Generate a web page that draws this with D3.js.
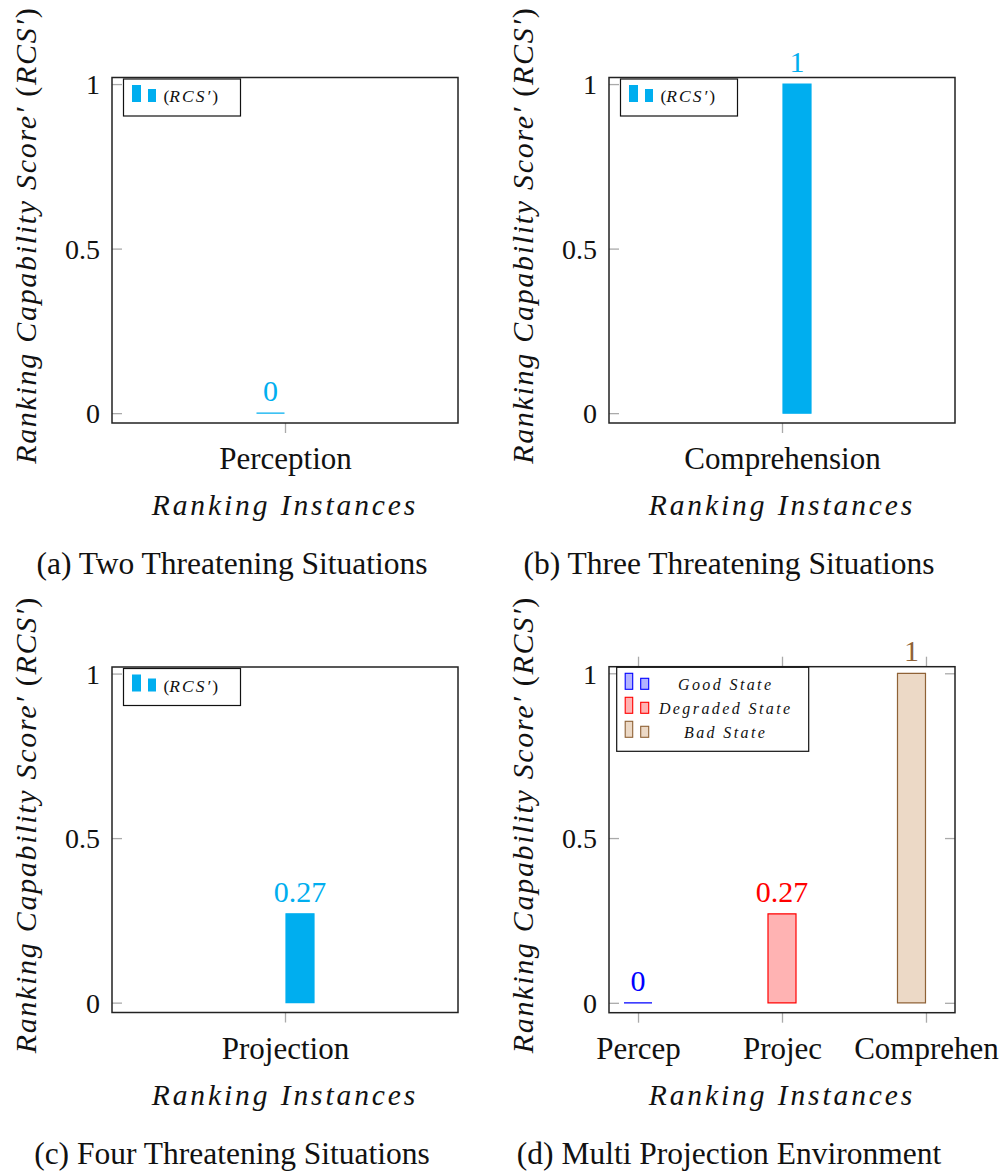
<!DOCTYPE html>
<html><head><meta charset="utf-8">
<script src="https://cdn.jsdelivr.net/npm/d3@7"></script>
<style>
body{margin:0;background:#fff;}
svg{display:block;}
text{font-family:"Liberation Serif","Times New Roman",serif;}
</style></head>
<body>
<script>
// ---------- data ----------
const yTicks = [0, 0.5, 1];
const yTickLabels = ["0", "0.5", "1"];

const catsA = ["Perception"];
const valsA = [0];
const catsB = ["Comprehension"];
const valsB = [1];
const catsC = ["Projection"];
const valsC = [0.27];

const catsD = ["Percep", "Projec", "Comprehen"];
const goodD = [0, null, null];
const degradedD = [null, 0.27, null];
const badD = [null, null, 1];

const seriesNamesD = ["Good State", "Degraded State", "Bad State"];
const captions = ["(a) Two Threatening Situations", "(b) Three Threatening Situations",
                  "(c) Four Threatening Situations", "(d) Multi Projection Environment"];
const xLabel = "Ranking Instances";

// ---------- drawing ----------
const W = 1003, H = 1171;
const svg = d3.select("body").append("svg").attr("width", W).attr("height", H);

const CYAN = "#00aeef";
const fmt = v => String(+v.toFixed(2));

function frame(p) {
  const g = svg.append("g");
  const x = d3.scalePoint().domain(p.cats).range([p.x0, p.x1]).padding(p.pad);
  const y = d3.scaleLinear().domain([-0.03, 1.02]).range([p.y1, p.y0]);
  const yl = g.append("g").attr("transform", `translate(${p.x0},0)`)
    .call(d3.axisLeft(y).tickValues(yTicks).tickFormat((d, i) => yTickLabels[i]).tickSizeInner(-10).tickSizeOuter(0).tickPadding(12));
  yl.select(".domain").remove();
  yl.selectAll("line").attr("stroke", "#aaa").attr("stroke-width", 1.3);
  yl.selectAll("text").attr("font-size", 28).attr("fill", "#111").attr("dy", "0.35em");
  if (p.mirror) {
    const yr = g.append("g").attr("transform", `translate(${p.x1},0)`)
      .call(d3.axisRight(y).tickValues(yTicks).tickFormat("").tickSizeInner(-10).tickSizeOuter(0));
    yr.select(".domain").remove();
    yr.selectAll("line").attr("stroke", "#aaa").attr("stroke-width", 1.3);
    const xt = g.append("g").attr("transform", `translate(0,${p.y0})`)
      .call(d3.axisTop(x).tickFormat("").tickSizeInner(10).tickSizeOuter(0));
    xt.select(".domain").remove();
    xt.selectAll("line").attr("stroke", "#aaa").attr("stroke-width", 1.3);
  }
  const xb = g.append("g").attr("transform", `translate(0,${p.y1})`)
    .call(d3.axisBottom(x).tickSizeInner(10).tickSizeOuter(0).tickPadding(14));
  xb.select(".domain").remove();
  xb.selectAll("line").attr("stroke", "#aaa").attr("stroke-width", 1.3);
  xb.selectAll("text").attr("font-size", 31).attr("fill", "#111").attr("dy", "0.71em");
  g.append("rect").attr("x", p.x0).attr("y", p.y0).attr("width", p.x1 - p.x0).attr("height", p.y1 - p.y0)
    .attr("fill", "none").attr("stroke", "#222").attr("stroke-width", 1.5);
  const cx = (p.x0 + p.x1) / 2;
  g.append("text").attr("x", cx).attr("y", p.y1 + 92).attr("text-anchor", "middle")
    .attr("font-size", 29.5).attr("font-style", "italic").attr("letter-spacing", 2.9).attr("fill", "#111").text(xLabel);
  const yl2 = g.append("text").attr("transform", `translate(${p.x0 - 76},${(p.y0 + p.y1) / 2 - 15}) rotate(-90)`)
    .attr("text-anchor", "middle").attr("font-size", 30).attr("font-style", "italic").attr("letter-spacing", 1.7).attr("fill", "#111");
  yl2.append("tspan").text("Ranking Capability Score′ ");
  yl2.append("tspan").attr("font-style", "normal").text("(");
  yl2.append("tspan").text("RCS′");
  yl2.append("tspan").attr("font-style", "normal").text(")");
  g.append("text").attr("x", cx - 53).attr("y", p.y1 + 151).attr("text-anchor", "middle")
    .attr("font-size", 31.5).attr("fill", "#111").text(p.caption);
  return {g, x, y};
}

function bars(ctx, cats, vals, style, shift) {
  const {g, x, y} = ctx;
  const bw = 28;
  const data = cats.map((c, i) => ({c, v: vals[i]})).filter(d => d.v !== null);
  g.selectAll(null).data(data).enter().append("path")
    .attr("d", d => {
      const x0 = x(d.c) + shift - bw / 2, x1 = x0 + bw, yt = y(d.v), yb = y(0);
      return `M${x0},${yb}L${x0},${yt}L${x1},${yt}L${x1},${yb}Z`;
    })
    .attr("fill", style.fill).attr("stroke", style.stroke).attr("stroke-width", 1.2);
  g.selectAll(null).data(data).enter().append("text")
    .attr("x", d => x(d.c) + shift).attr("y", d => y(d.v) - 12).attr("text-anchor", "middle")
    .attr("font-size", 30).attr("fill", style.label).text(d => fmt(d.v));
}

function legendSingle(ctx, p) {
  const g = ctx.g;
  const lx = p.x0 + 11.5, ly = p.y0 + 1.5;
  g.append("rect").attr("x", lx).attr("y", ly).attr("width", 117).attr("height", 37)
    .attr("fill", "#fff").attr("stroke", "#111").attr("stroke-width", 1.2);
  g.append("rect").attr("x", lx + 8.5).attr("y", ly + 6).attr("width", 9).attr("height", 17).attr("fill", CYAN);
  g.append("rect").attr("x", lx + 24.5).attr("y", ly + 10).attr("width", 8).attr("height", 13).attr("fill", CYAN);
  const t = g.append("text").attr("x", lx + 40).attr("y", ly + 23).attr("font-size", 17.5).attr("fill", "#111");
  t.append("tspan").text("(");
  t.append("tspan").attr("font-style", "italic").attr("letter-spacing", 2).text("RCS′");
  t.append("tspan").text(")");
}

const panels = [
  {x0: 112, x1: 458, y0: 77.5, y1: 423, cats: catsA, pad: 0.5, caption: captions[0]},
  {x0: 609, x1: 955, y0: 77.5, y1: 423, cats: catsB, pad: 0.5, caption: captions[1]},
  {x0: 112, x1: 458, y0: 667, y1: 1012.5, cats: catsC, pad: 0.5, caption: captions[2]},
  {x0: 609, x1: 955, y0: 666.7, y1: 1012.7, cats: catsD, pad: 0.2015, caption: captions[3], mirror: true}
];
const cyanStyle = {fill: CYAN, stroke: CYAN, label: CYAN};

const A = frame(panels[0]); bars(A, catsA, valsA, cyanStyle, -14.5); legendSingle(A, panels[0]);
const B = frame(panels[1]); bars(B, catsB, valsB, cyanStyle, 15); legendSingle(B, panels[1]);
const C = frame(panels[2]); bars(C, catsC, valsC, cyanStyle, 15); legendSingle(C, panels[2]);
const D = frame(panels[3]);
const stylesD = [
  {fill: "#b3b3ff", stroke: "#0000ff", label: "#0000ff"},
  {fill: "#ffb3b3", stroke: "#ff0000", label: "#ff0000"},
  {fill: "#ecd9c6", stroke: "#8f6236", label: "#8f6236"}
];
bars(D, catsD, goodD, stylesD[0], 0);
bars(D, catsD, degradedD, stylesD[1], 0);
bars(D, catsD, badD, stylesD[2], -14.5);
(function () {
  const g = D.g, p = panels[3];
  const lx = p.x0 + 7.7, ly = p.y0 + 0.6;
  g.append("rect").attr("x", lx).attr("y", ly).attr("width", 192).attr("height", 84)
    .attr("fill", "#fff").attr("stroke", "#111").attr("stroke-width", 1.2);
  seriesNamesD.forEach((n, i) => {
    const ry = ly + 18 + i * 24;
    const s = stylesD[i];
    g.append("rect").attr("x", lx + 8.5).attr("y", ry - 12).attr("width", 7.5).attr("height", 16)
      .attr("fill", s.fill).attr("stroke", s.stroke).attr("stroke-width", 1.1);
    g.append("rect").attr("x", lx + 24).attr("y", ry - 7).attr("width", 8).attr("height", 11)
      .attr("fill", s.fill).attr("stroke", s.stroke).attr("stroke-width", 1.1);
    g.append("text").attr("x", lx + 109).attr("y", ry + 5).attr("text-anchor", "middle")
      .attr("font-size", 16).attr("font-style", "italic").attr("letter-spacing", 2.4).attr("fill", "#111").text(n);
  });
})();
</script>
</body></html>
